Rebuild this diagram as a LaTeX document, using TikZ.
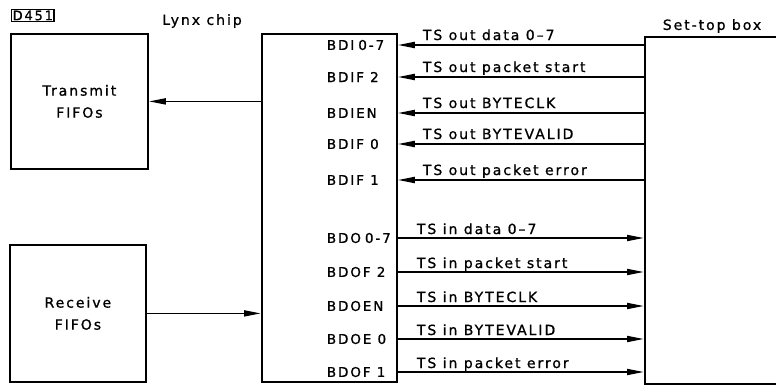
\documentclass[tikz,border=0pt]{standalone}
\usepackage{fontspec}
\setmainfont{DejaVu Sans}[LetterSpace=14, FakeBold=1]
\usetikzlibrary{arrows.meta,positioning}

\begin{document}
\begin{tikzpicture}[x=1pt, y=-1pt, >={Triangle[length=17pt,width=6pt]}, line width=1.8pt,
  font=\fontsize{14}{22}\selectfont,
  block/.style={draw, anchor=north west, align=center},
  pinlabel/.style={anchor=west, inner sep=0pt, font=\fontsize{13.5}{16}\selectfont},
  siglabel/.style={anchor=base west, inner sep=0pt}]
\useasboundingbox (0,0) rectangle (776,384);

% Blocks
\node[block, minimum width=137pt, minimum height=135pt] (tx) at (10,33) {Transmit\\FIFOs};
\node[block, minimum width=136pt, minimum height=137pt] (rx) at (9,244) {Receive\\FIFOs};
\node[block, minimum width=135pt, minimum height=348pt] (chip) at (261,33) {};
\node[block, minimum width=160pt, minimum height=347pt] (stb) at (644,36) {};

% Titles
\node[draw, line width=1.4pt, inner sep=1pt, anchor=north west, font=\fontsize{13}{13}\selectfont] (fig) at (11,9) {D451};
\node (lynx) at (202,21) {Lynx chip};
\node (stbname) at (712,26) {Set-top box};

% Chip to FIFOs
\draw[->] (chip.west |- tx.east) -- (tx.east);
\draw[->] (rx.east) -- (chip.west |- rx.east);

% TS out signals
\foreach \y/\pin/\sig [count=\i] in {45/BDI\hspace{4pt}0-7/TS out data 0--7, 77/BDIF 2/TS out packet start,
  113/BDIEN/TS out BYTECLK, 144/BDIF 0/TS out BYTEVALID, 180/BDIF 1/TS out packet error}{
  \node[pinlabel] (bdi\i) at (326,\y) {\pin};
  \node[siglabel] (tsout\i) at (422,\y-5) {\sig};
  \draw[->] (stb.west |- bdi\i) -- (chip.east |- bdi\i);
}

% TS in signals
\foreach \y/\pin/\sig [count=\i] in {238/BDO\hspace{4pt}0-7/TS in data 0--7, 272/BDOF 2/TS in packet start,
  306/BDOEN/TS in BYTECLK, 339/BDOE 0/TS in BYTEVALID, 372/BDOF 1/TS in packet error}{
  \node[pinlabel] (bdo\i) at (326,\y) {\pin};
  \node[siglabel] (tsin\i) at (416,\y-4) {\sig};
  \draw[->] (chip.east |- bdo\i) -- (stb.west |- bdo\i);
}
\end{tikzpicture}
\end{document}
